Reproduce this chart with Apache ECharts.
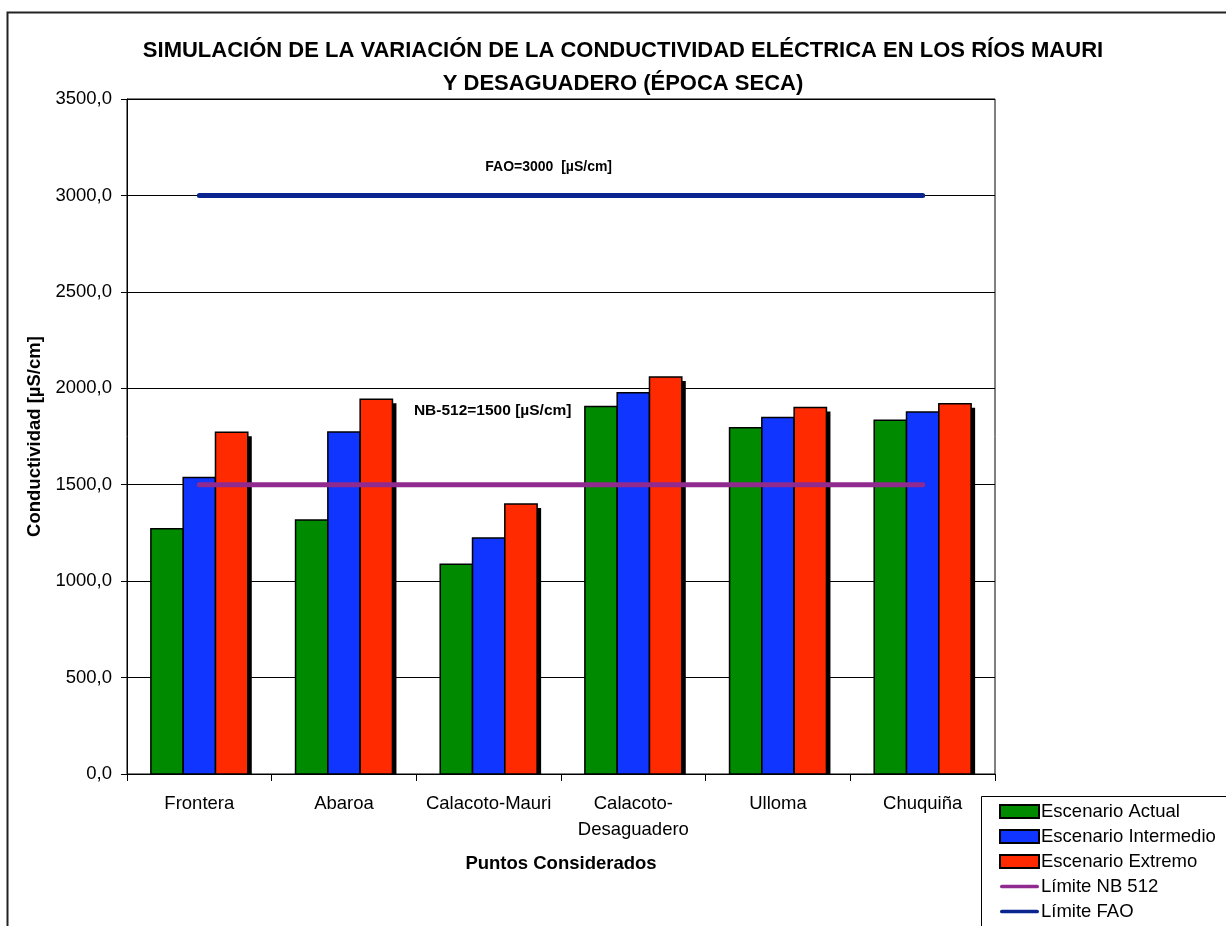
<!DOCTYPE html>
<html>
<head>
<meta charset="utf-8">
<script src="https://cdn.jsdelivr.net/npm/echarts@6/dist/echarts.min.js"></script>
<style>
  html, body { margin: 0; padding: 0; background: #fff; }
  #chart { width: 1226px; height: 926px; }
</style>
</head>
<body>
<div id="chart"></div>
<script>
// Monitoring points along the rivers
const categories = ['Frontera', 'Abaroa', 'Calacoto-Mauri', 'Calacoto-\nDesaguadero', 'Ulloma', 'Chuquiña'];

// Simulated electrical conductivity [µS/cm] per scenario
const actual     = [1272, 1317, 1087, 1905, 1796, 1834];
const intermedio = [1538, 1773, 1224, 1977, 1848, 1877];
const extremo    = [1772, 1943, 1400, 2058, 1901, 1920];

// Regulatory limits [µS/cm]
const limiteNB  = [1500, 1500, 1500, 1500, 1500, 1500];
const limiteFAO = [3000, 3000, 3000, 3000, 3000, 3000];

const yTicks = [0, 500, 1000, 1500, 2000, 2500, 3000, 3500];

const FONT = '"Liberation Sans", Arial, sans-serif';
const BAR_FRACTION = 0.2233;   // width of one bar relative to a category band
const SHADOW = 4;              // drop-shadow offset in px

// Three adjacent bars per category, each with a solid black drop shadow
function barRenderer(slot) {
  return function (params, api) {
    const ci = api.value(0);
    const v = api.value(1);
    const top = api.coord([ci, v]);
    const base = api.coord([ci, 0]);
    const bw = api.size([1, 0])[0] * BAR_FRACTION;
    const x = top[0] - 1.5 * bw + slot * bw;
    const h = base[1] - top[1];
    return {
      type: 'group',
      children: [
        { type: 'rect', shape: { x: x + SHADOW, y: top[1] + SHADOW, width: bw, height: Math.max(0, h - SHADOW) },
          style: { fill: '#000' } },
        { type: 'rect', shape: { x: x, y: top[1], width: bw, height: h },
          style: { fill: api.visual('color'), stroke: '#000', lineWidth: 1.5 } }
      ]
    };
  };
}

function barSeries(name, values, slot, color) {
  return {
    name: name, type: 'custom', renderItem: barRenderer(slot),
    data: values.map((v, i) => [i, v]),
    encode: { x: 0, y: 1 },
    itemStyle: { color: color, borderColor: '#000', borderWidth: 1.5 }
  };
}

function limitSeries(name, values, color, caption, capIndex, capOffset, capSize) {
  return {
    name: name, type: 'line', symbol: 'none', z: 5,
    data: values,
    lineStyle: { color: color, width: 5, cap: 'round' },
    itemStyle: { color: color },
    markPoint: {
      symbol: 'circle', symbolSize: 0, silent: true,
      data: [{ coord: [capIndex, values[capIndex]], value: values[capIndex] }],
      label: {
        show: true, position: 'top', offset: capOffset, formatter: caption,
        fontFamily: FONT, fontWeight: 'bold', fontSize: capSize, color: '#000'
      }
    }
  };
}

const lineIcon = 'path://M2,0 H40 A2,2 0 0 1 40,4 H2 A2,2 0 0 1 2,0 Z';

const chart = echarts.init(document.getElementById('chart'), null, { renderer: 'canvas' });

chart.setOption({
  backgroundColor: '#fff',
  animation: false,
  textStyle: { fontFamily: FONT },
  graphic: [
    { type: 'rect', left: 5, top: 10, z: -10,
      shape: { width: 1400, height: 1100 },
      style: { fill: 'none', stroke: '#222', lineWidth: 2 } },
    { type: 'rect', left: 981, top: 796, z: 0,
      shape: { width: 400, height: 300 },
      style: { fill: '#fff', stroke: '#000', lineWidth: 1 } }
  ],
  title: {
    text: 'SIMULACIÓN DE LA VARIACIÓN DE LA CONDUCTIVIDAD ELÉCTRICA EN LOS RÍOS MAURI\nY DESAGUADERO (ÉPOCA SECA)',
    left: 618, top: 29, textAlign: 'center',
    textStyle: { fontFamily: FONT, fontWeight: 'bold', fontSize: 22, lineHeight: 33, color: '#000' }
  },
  legend: {
    orient: 'vertical',
    left: 982, top: 798,
    padding: [4, 10, 4, 17],
    itemWidth: 39, itemHeight: 13, itemGap: 6,
    z: 10,
    textStyle: { fontFamily: FONT, fontSize: 18.5, color: '#000', padding: [0, 0, 0, -3] },
    data: [
      { name: 'Escenario Actual', icon: 'rect' },
      { name: 'Escenario Intermedio', icon: 'rect' },
      { name: 'Escenario Extremo', icon: 'rect' },
      { name: 'Límite NB 512', icon: lineIcon, itemStyle: { borderWidth: 0 } },
      { name: 'Límite FAO', icon: lineIcon, itemStyle: { borderWidth: 0 } }
    ]
  },
  grid: {
    left: 127, top: 99, right: 231, bottom: 152,
    show: true, borderColor: '#000', borderWidth: 1, backgroundColor: '#fff'
  },
  xAxis: {
    type: 'category',
    data: categories,
    boundaryGap: true,
    name: 'Puntos Considerados',
    nameLocation: 'middle',
    nameGap: 80,
    nameTextStyle: { fontFamily: FONT, fontWeight: 'bold', fontSize: 18.5, color: '#000' },
    axisLine: { lineStyle: { color: '#000', width: 1 } },
    axisTick: { show: true, length: 7, lineStyle: { color: '#000' } },
    axisLabel: { fontFamily: FONT, fontSize: 18.5, color: '#000', margin: 17, lineHeight: 26, interval: 0 }
  },
  yAxis: {
    type: 'value',
    min: 0, max: 3500, interval: 500,
    name: 'Conductividad [µS/cm]',
    nameLocation: 'middle',
    nameGap: 79,
    nameTextStyle: { fontFamily: FONT, fontWeight: 'bold', fontSize: 18.5, color: '#000' },
    axisLine: { show: true, lineStyle: { color: '#000', width: 1 } },
    axisTick: { show: true, length: 6, lineStyle: { color: '#000' } },
    axisLabel: {
      fontFamily: FONT, fontSize: 18.5, color: '#000', margin: 15,
      formatter: (v) => yTicks.includes(v) ? v.toFixed(1).replace('.', ',') : ''
    },
    splitLine: { show: true, lineStyle: { color: '#000', width: 1 } }
  },
  series: [
    barSeries('Escenario Actual', actual, 0, '#008A00'),
    barSeries('Escenario Intermedio', intermedio, 1, '#0F35FF'),
    barSeries('Escenario Extremo', extremo, 2, '#FF2A00'),
    limitSeries('Límite NB 512', limiteNB, '#912A8E', 'NB-512=1500 [µS/cm]', 2, [4, -61], 15.5),
    limitSeries('Límite FAO', limiteFAO, '#0A2490', 'FAO=3000  [µS/cm]', 2, [60, -16], 14)
  ]
});
</script>
</body>
</html>
